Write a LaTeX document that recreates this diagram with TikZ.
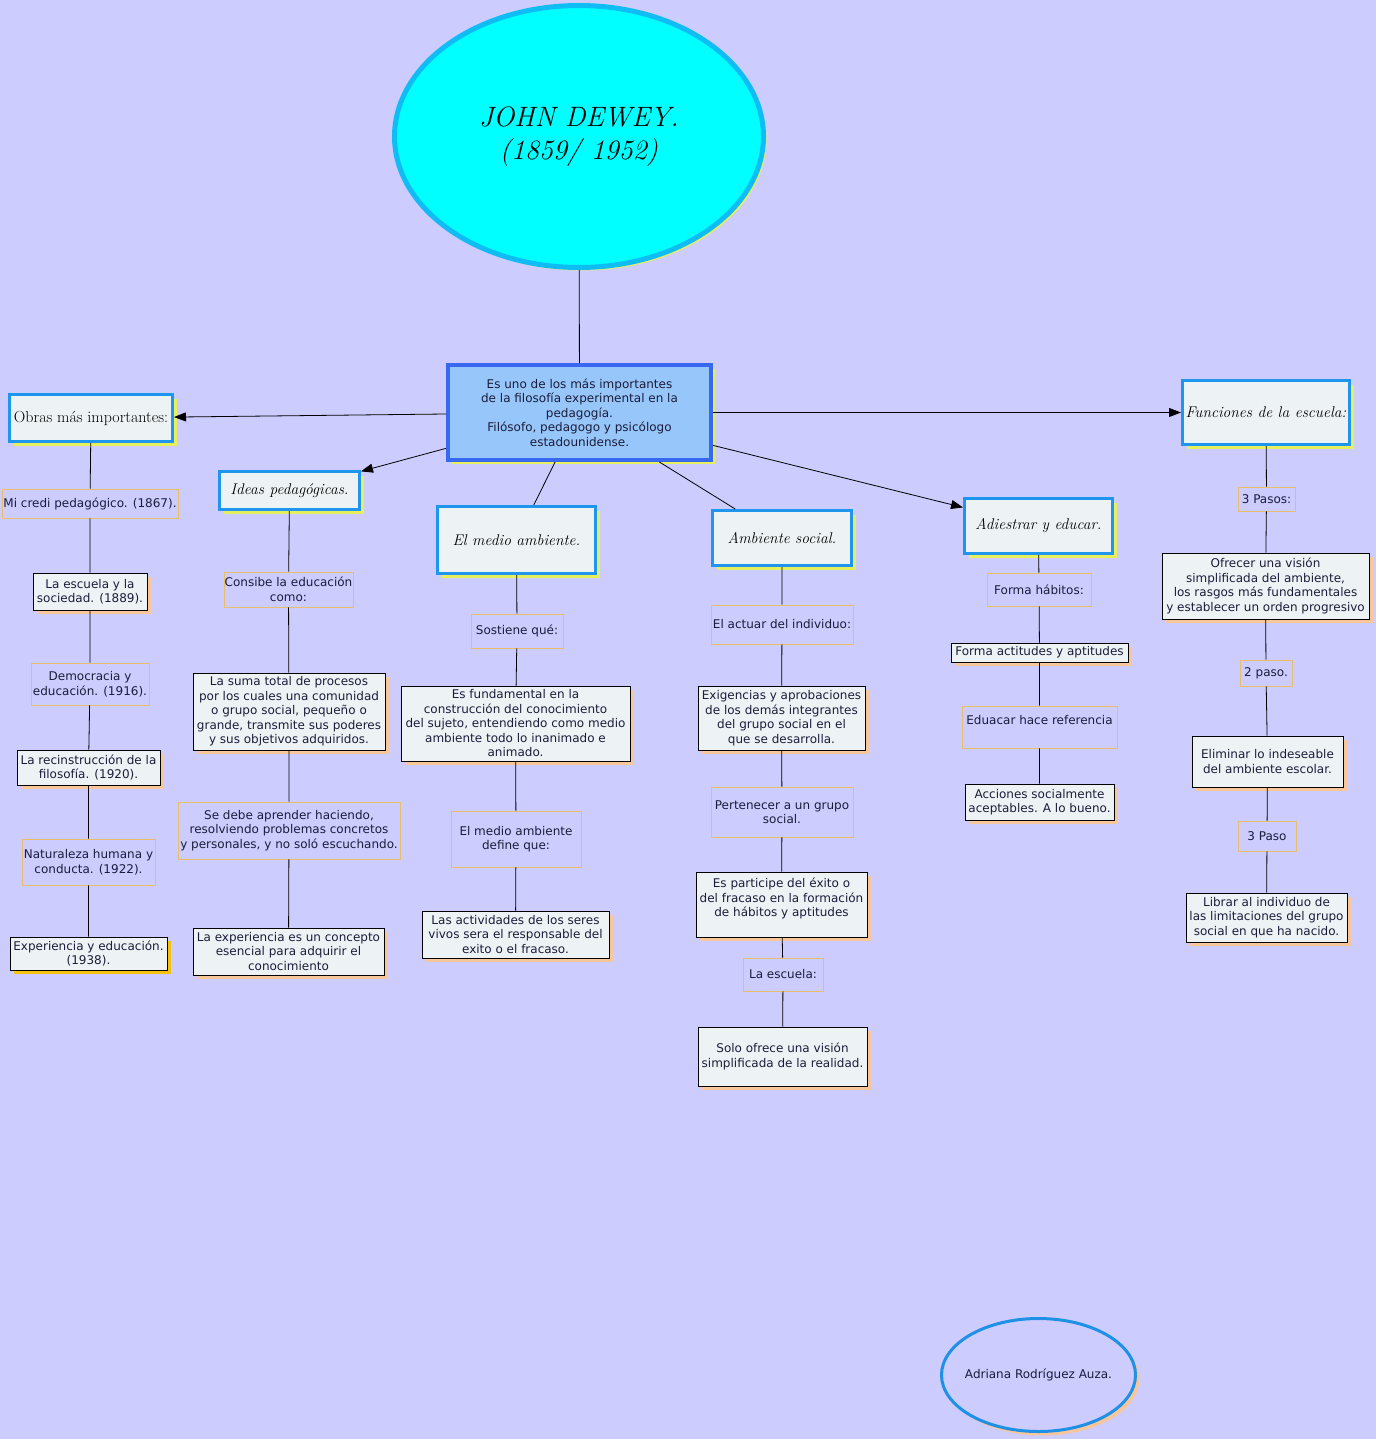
\documentclass[tikz,border=0pt]{standalone}
\usepackage{fontspec}
\usepackage{tikz}
\usetikzlibrary{arrows.meta,shapes.geometric,shadows}
\newfontfamily\verdana{DejaVu Sans}
\definecolor{bglav}{HTML}{CCCCFF}
\definecolor{boxfill}{HTML}{EDF3F5}
\definecolor{titleblue}{HTML}{1E96EE}
\definecolor{shadowyellow}{HTML}{E8EF5C}
\definecolor{shadowpeach}{HTML}{F7C79B}
\definecolor{shadowgold}{HTML}{F5C30F}
\definecolor{linkorange}{HTML}{E9BE6A}
\definecolor{coreblue}{HTML}{3868F0}
\definecolor{corefill}{HTML}{96C6FA}
\definecolor{headblue}{HTML}{0FBDF4}
\definecolor{headfill}{HTML}{00FFFF}
\definecolor{authorblue}{HTML}{1E90E6}
\definecolor{inkdark}{HTML}{1C1C3A}

\begin{document}
\begin{tikzpicture}[x=1pt,y=-1pt,
  sans/.style={font=\verdana\fontsize{12}{14.5}\selectfont,text=inkdark,align=center},
  titlebox/.style={draw=titleblue,line width=3pt,fill=boxfill,inner sep=0pt,
    font=\fontsize{16}{19}\selectfont,
    drop shadow={shadow xshift=4pt,shadow yshift=-4pt,fill=shadowyellow,opacity=1}},
  titleit/.style={titlebox,font=\fontsize{15.5}{18}\selectfont\itshape},
  notebox/.style={sans,draw=black,line width=0.8pt,fill=boxfill,inner sep=0pt,
    drop shadow={shadow xshift=4pt,shadow yshift=-4pt,fill=#1,opacity=1}},
  notebox/.default=shadowpeach,
  linkbox/.style={sans,draw=linkorange,line width=0.8pt,inner sep=0pt},
  link/.style={line width=0.8pt,black},
  pointer/.style={link,-{Triangle[length=12pt,width=9pt]}}]
\fill[bglav] (0,0) rectangle (1376,1439);
\useasboundingbox (0,0) rectangle (1376,1439);

\node[ellipse,draw=headblue,line width=5pt,fill=headfill,minimum width=369pt,minimum height=262pt,
  font=\fontsize{28}{33}\selectfont\itshape,align=center,
  drop shadow={shadow xshift=3pt,shadow yshift=-3pt,fill=shadowyellow,opacity=1}] (dewey) at (579,136.5) {JOHN DEWEY.\\(1859/ 1952)};
\node[sans,draw=coreblue,line width=4pt,fill=corefill,minimum width=263pt,minimum height=95pt,inner sep=0pt,
  drop shadow={shadow xshift=4pt,shadow yshift=-4pt,fill=shadowyellow,opacity=1}] (core) at (579.5,412.5) {Es uno de los más importantes\\de la filosofía experimental en la\\pedagogía.\\Filósofo, pedagogo y psicólogo\\estadounidense.};

\node[titlebox,minimum width=163pt,minimum height=47pt] (obras) at (91,418) {Obras más importantes:};
\node[titleit,minimum width=140pt,minimum height=38pt] (ideas) at (289.5,490.5) {Ideas pedagógicas.};
\node[titleit,minimum width=158pt,minimum height=67pt] (medio) at (516.5,540) {El medio ambiente.};
\node[titleit,minimum width=139pt,minimum height=55pt] (social) at (782,538) {Ambiente social.};
\node[titleit,minimum width=148pt,minimum height=55pt] (adiestrar) at (1038.5,526) {Adiestrar y educar.};
\node[titleit,minimum width=167pt,minimum height=64pt] (funciones) at (1266,412.5) {Funciones de la escuela:};

\node[linkbox,minimum width=176pt,minimum height=29pt] (credo) at (90,503.5) {Mi credi pedagógico. (1867).};
\node[notebox,minimum width=114pt,minimum height=37pt] (escsoc) at (90,591.5) {La escuela y la\\sociedad. (1889).};
\node[linkbox,minimum width=118pt,minimum height=42pt] (democ) at (90,684) {Democracia y\\educación. (1916).};
\node[notebox,minimum width=143pt,minimum height=35pt] (recons) at (88.5,767.5) {La recinstrucción de la\\filosofía. (1920).};
\node[linkbox,minimum width=133pt,minimum height=46pt] (natur) at (88.5,862) {Naturaleza humana y\\conducta. (1922).};
\node[notebox=shadowgold,minimum width=157pt,minimum height=33pt] (expedu) at (88.5,953.5) {Experiencia y educación.\\(1938).};

\node[linkbox,minimum width=129pt,minimum height=35pt] (consibe) at (288.5,589.5) {Consibe la educación\\como:};
\node[notebox,minimum width=192pt,minimum height=77pt] (suma) at (289,711.5) {La suma total de procesos\\por los cuales una comunidad\\o grupo social, pequeño o\\grande, transmite sus poderes\\y sus objetivos adquiridos.};
\node[linkbox,minimum width=222pt,minimum height=57pt] (aprender) at (289,830.5) {Se debe aprender haciendo,\\resolviendo problemas concretos\\y personales, y no soló escuchando.};
\node[notebox,minimum width=191pt,minimum height=47pt] (concepto) at (288.5,951.5) {La experiencia es un concepto\\esencial para adquirir el\\conocimiento};

\node[linkbox,minimum width=92pt,minimum height=34pt] (sostiene) at (517,631) {Sostiene qué:};
\node[notebox,minimum width=229pt,minimum height=75pt] (fundamental) at (515.5,723.5) {Es fundamental en la\\construcción del conocimiento\\del sujeto, entendiendo como medio\\ambiente todo lo inanimado e\\animado.};
\node[linkbox,minimum width=130pt,minimum height=56pt] (define) at (516,839) {El medio ambiente\\define que:};
\node[notebox,minimum width=187pt,minimum height=47pt] (seres) at (515.5,934.5) {Las actividades de los seres\\vivos sera el responsable del\\exito o el fracaso.};

\node[linkbox,minimum width=142pt,minimum height=39pt] (actuar) at (782,624.5) {El actuar del individuo:};
\node[notebox,minimum width=167pt,minimum height=64pt] (exigencias) at (781.5,718) {Exigencias y aprobaciones\\de los demás integrantes\\del grupo social en el\\que se desarrolla.};
\node[linkbox,minimum width=142pt,minimum height=50pt] (pertenecer) at (782,812) {Pertenecer a un grupo\\social.};
\node[notebox,minimum width=171pt,minimum height=65pt] (participe) at (781.5,904.5) {Es participe del éxito o\\del fracaso en la formación\\de hábitos y aptitudes\\\mbox{}};
\node[linkbox,minimum width=80pt,minimum height=33pt] (laescuela) at (783,974.5) {La escuela:};
\node[notebox,minimum width=169pt,minimum height=59pt] (solo) at (782.5,1056.5) {Solo ofrece una visión\\simplificada de la realidad.};

\node[linkbox,minimum width=104pt,minimum height=33pt] (habitos) at (1039,589.5) {Forma hábitos:};
\node[notebox,minimum width=177pt,minimum height=19pt] (actitudes) at (1039.5,652.5) {Forma actitudes y aptitudes};
\node[linkbox,minimum width=155pt,minimum height=42pt] (eduacar) at (1039.5,727) {Eduacar hace referencia\\\mbox{}};
\node[notebox,minimum width=149pt,minimum height=36pt] (acciones) at (1039.5,802) {Acciones socialmente\\aceptables. A lo bueno.};

\node[linkbox,minimum width=57pt,minimum height=24pt] (pasos) at (1266.5,499) {3 Pasos:};
\node[notebox,minimum width=207pt,minimum height=66pt] (ofrecer) at (1265.5,586) {Ofrecer una visión\\simplificada del ambiente,\\los rasgos más fundamentales\\y establecer un orden progresivo};
\node[linkbox,minimum width=52pt,minimum height=26pt] (pasodos) at (1266,673) {2 paso.};
\node[notebox,minimum width=151pt,minimum height=51pt] (eliminar) at (1267.5,761.5) {Eliminar lo indeseable\\del ambiente escolar.};
\node[linkbox,minimum width=58pt,minimum height=30pt] (pasotres) at (1267,836) {3 Paso};
\node[notebox,minimum width=161pt,minimum height=49pt] (librar) at (1266.5,917.5) {Librar al individuo de\\las limitaciones del grupo\\social en que ha nacido.};

\node[sans,ellipse,draw=authorblue,line width=3pt,fill=bglav,inner xsep=-10pt,minimum width=194pt,minimum height=113pt,
  drop shadow={shadow xshift=4pt,shadow yshift=-4pt,fill=shadowpeach,opacity=1}] (author) at (1038.5,1375) {Adriana Rodríguez Auza.};

\draw[link] (dewey) -- (core);
\draw[pointer] (core) -- (obras);
\draw[pointer] (core) -- (ideas);
\draw[link] (core) -- (medio);
\draw[link] (core) -- (social);
\draw[pointer] (core) -- (adiestrar);
\draw[pointer] (core) -- (funciones);

\draw[link] (obras) -- (credo) -- (escsoc) -- (democ) -- (recons) -- (natur) -- (expedu);
\draw[link] (ideas) -- (consibe) -- (suma) -- (aprender) -- (concepto);
\draw[link] (medio) -- (sostiene) -- (fundamental) -- (define) -- (seres);
\draw[link] (social) -- (actuar) -- (exigencias) -- (pertenecer) -- (participe) -- (laescuela) -- (solo);
\draw[link] (adiestrar) -- (habitos) -- (actitudes) -- (eduacar) -- (acciones);
\draw[link] (funciones) -- (pasos) -- (ofrecer) -- (pasodos) -- (eliminar) -- (pasotres) -- (librar);
\end{tikzpicture}
\end{document}
